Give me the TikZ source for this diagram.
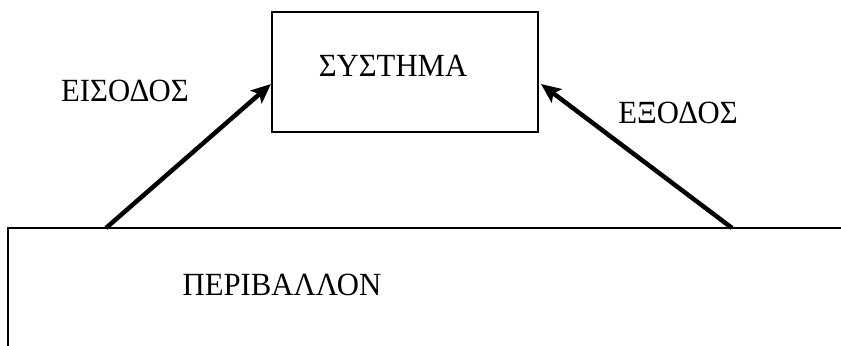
\documentclass[tikz,border=0pt]{standalone}
\usepackage{fontspec}
\setmainfont{Liberation Serif}
\usepackage{tikz}
\usetikzlibrary{arrows.meta,positioning}

\begin{document}
\begin{tikzpicture}[x=0.025cm,y=-0.025cm,
    box/.style={draw,line width=1.3pt,inner sep=0pt},
    flow/.style={line width=3.2pt,-{Stealth[length=14pt,width=12pt,inset=3pt]}},
    txt/.style={font=\fontsize{23}{25}\selectfont,inner sep=0pt,xscale=0.95}]
\useasboundingbox (0,0) rectangle (841,346);
% system box with its label
\node[box,minimum width=6.65cm,minimum height=3.0cm] (sys) at (405,72) {};
\node[txt] (syslbl) at (393,66) {ΣΥΣΤΗΜΑ};
% environment, open to the right and below
\coordinate (envBL) at (8,346);
\coordinate (envTL) at (8,228);
\coordinate (envTR) at (841,228);
\draw[line width=1.3pt] (envBL) -- (envTL) -- (envTR);
\node[txt] (envlbl) at (282,285) {ΠΕΡΙΒΑΛΛΟΝ};
% input and output flows
\coordinate (inBase) at (106,228);
\coordinate (inTip) at (271,84);
\coordinate (outBase) at (732,228);
\coordinate (outTip) at (541,84);
\draw[flow] (inBase) -- (inTip);
\draw[flow] (outBase) -- (outTip);
\node[txt] (inlbl) at (125,91) {ΕΙΣΟΔΟΣ};
\node[txt] (outlbl) at (678,113) {ΕΞΟΔΟΣ};
\end{tikzpicture}
\end{document}
